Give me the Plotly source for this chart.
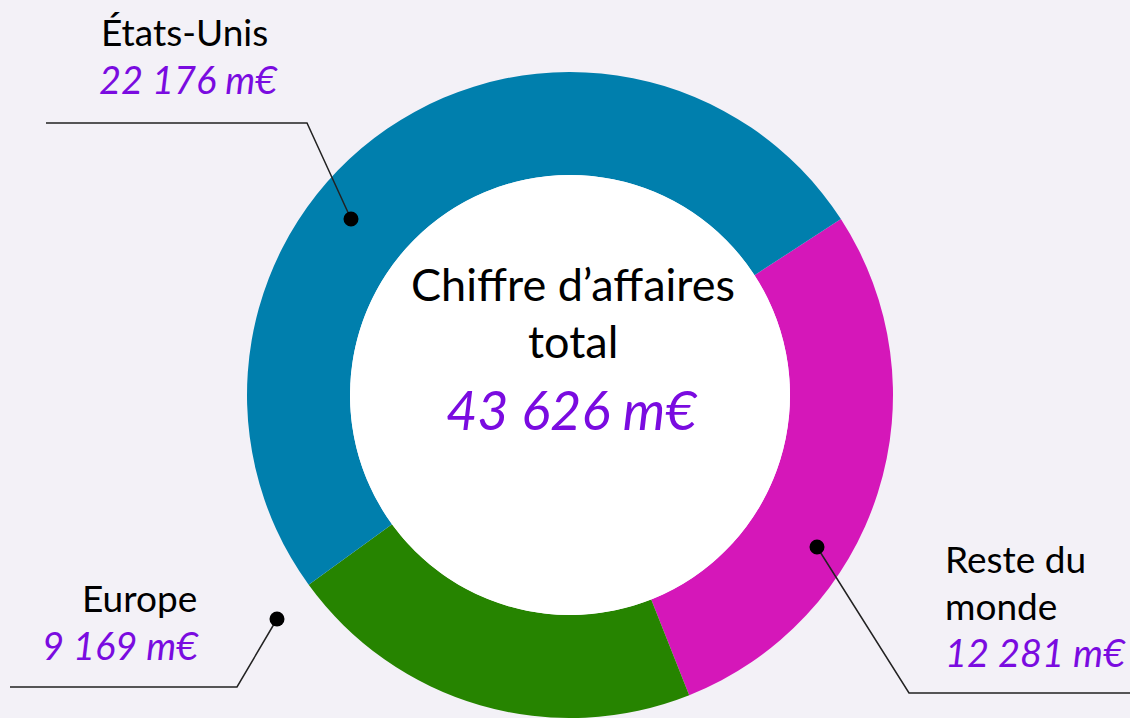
import plotly.graph_objects as go

# ---- data ----
regions = ["Reste du monde", "Europe", "États-Unis"]
values = [12281, 9169, 22176]
value_labels = ["12 281 m€", "9 169 m€", "22 176 m€"]
total_label = "43 626 m€"
center_title = ["Chiffre d’affaires", "total"]

# ---- style ----
colors = ["#D517B9", "#268400", "#007FAD"]
BG = "#F3F1F7"
PURPLE = "#7A0BE0"
FONT = "Lato"
W, H = 1130, 718
CX, CY, R_OUT, R_IN = 570, 395, 323, 220

fig = go.Figure()

def dom(cx, cy, r):
    return dict(x=[(cx - r) / W, (cx + r) / W], y=[(H - cy - r) / H, (H - cy + r) / H])

fig.add_trace(go.Pie(
    labels=regions, values=values, sort=False, direction="clockwise",
    rotation=57, hole=R_IN / R_OUT, textinfo="none", hoverinfo="label+value",
    marker=dict(colors=colors, line=dict(width=0)), domain=dom(CX, CY, R_OUT),
    showlegend=False,
))
fig.add_trace(go.Pie(
    labels=["centre"], values=[1], sort=False, textinfo="none", hoverinfo="skip",
    marker=dict(colors=["#FFFFFF"], line=dict(width=0)), domain=dom(CX, CY, R_IN),
    showlegend=False,
))

# leader lines (pixel coords on hidden axes), drawn as shapes above the pie
leaders = {
    "États-Unis": ([351, 307, 46], [219, 123, 123]),
    "Europe": ([277, 237, 10], [619, 687, 687]),
    "Reste du monde": ([817, 909, 1131], [547, 693, 693]),
}
shapes = []
DOT_R = 7.5
for name, (xs, ys) in leaders.items():
    path = "M " + " L ".join(f"{x},{y}" for x, y in zip(xs, ys))
    shapes.append(dict(type="path", path=path, xref="x", yref="y", layer="above",
                       line=dict(color="#222222", width=1.5)))
    shapes.append(dict(type="circle", xref="x", yref="y", layer="above",
                       x0=xs[0] - DOT_R, x1=xs[0] + DOT_R, y0=ys[0] - DOT_R, y1=ys[0] + DOT_R,
                       fillcolor="#000000", line=dict(width=0)))

ann = []
def txt(x, y, s, size, color="#000000", italic=False, xanchor="center"):
    ann.append(dict(x=x, y=y, xref="x", yref="y", text=s, showarrow=False,
                    xanchor=xanchor, yanchor="middle",
                    font=dict(family=FONT, size=size, color=color,
                              style="italic" if italic else "normal")))

# États-Unis
txt(184, 31, regions[2], 37)
txt(188, 79, value_labels[2], 38, PURPLE, True)
# Europe
txt(139, 597, regions[1], 37)
txt(120, 645, value_labels[1], 38, PURPLE, True)
# Reste du monde
txt(943, 558, "Reste du", 37, xanchor="left")
txt(943, 605, "monde", 37, xanchor="left")
txt(943, 652, value_labels[0], 38, PURPLE, True, xanchor="left")
# centre
txt(573, 284, center_title[0], 45)
txt(573, 341, center_title[1], 45)
txt(572, 409, total_label, 54, PURPLE, True)

fig.update_layout(
    width=W, height=H, margin=dict(l=0, r=0, t=0, b=0),
    paper_bgcolor=BG, plot_bgcolor="rgba(0,0,0,0)",
    xaxis=dict(range=[0, W], visible=False, domain=[0, 1], fixedrange=True),
    yaxis=dict(range=[H, 0], visible=False, domain=[0, 1], fixedrange=True),
    annotations=ann, shapes=shapes, showlegend=False,
)
fig.write_html("out.html", config={"displayModeBar": False},
               post_script="document.body.style.margin='0';document.body.style.overflow='hidden';"
                           f"document.body.style.background='{BG}';")
